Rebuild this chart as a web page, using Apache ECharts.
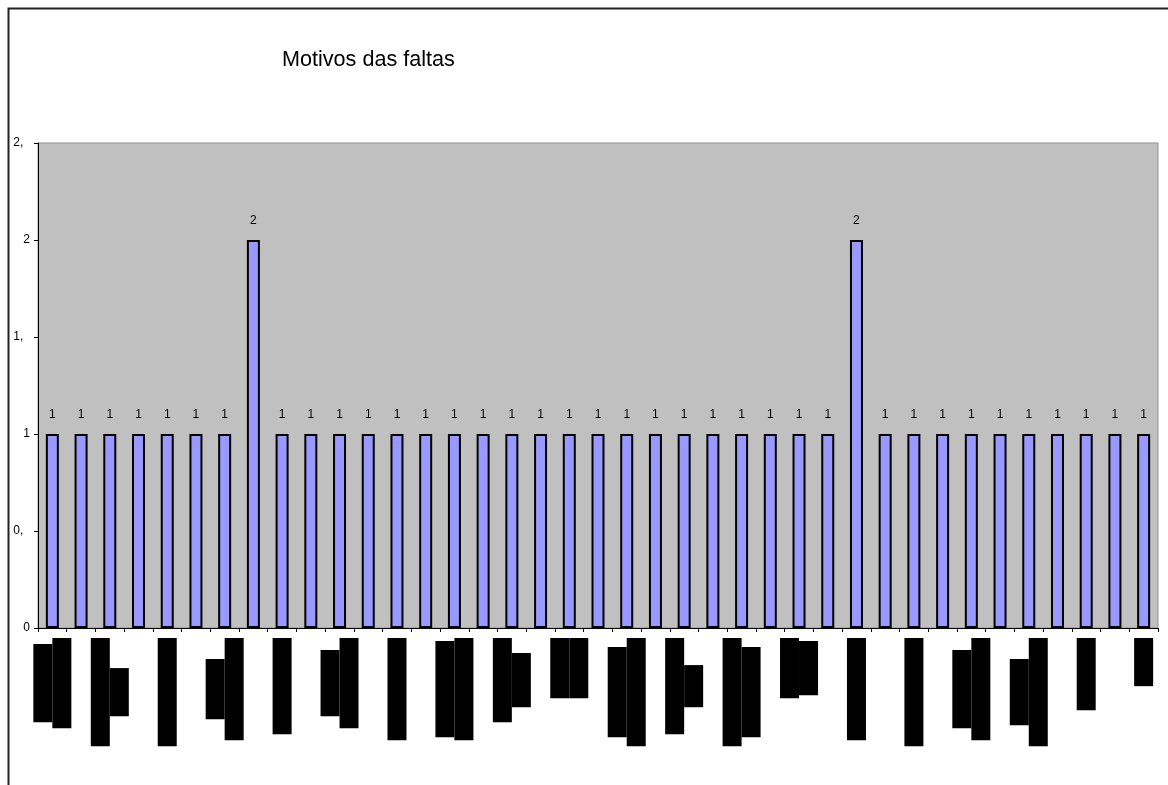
<!DOCTYPE html>
<html>
<head>
<meta charset="utf-8">
<script src="https://cdn.jsdelivr.net/npm/echarts@6/dist/echarts.min.js"></script>
<style>
  html, body { margin: 0; padding: 0; background: #fff; }
  #chart { width: 1168px; height: 785px; }
</style>
</head>
<body>
<div id="chart"></div>
<script>
// ---- data ----
const chartTitle = 'Motivos das faltas';

const categories = [
  'Problemas com\ntransporte ruim',
  'Gripe',
  'Consulta médica do\ndentista',
  'Febre',
  'Falecimento de avó',
  'Vômito',
  'Viagem com\nos pais para fora',
  'Resfriado',
  'Chuva e enchente',
  'Tosse',
  'Ficar com o\nirmão mais novo',
  'Piolho',
  'Dores de garganta',
  'Catapora',
  'Trabalho na roça\njunto com os pais',
  'Caxumba',
  'Aniversário de\nsua prima',
  'Cólica',
  'Dormiu até\nmais tarde',
  'Enxaqueca',
  'Tirar documento\nde identidade (RG)',
  'Torção no pé',
  'Machucou o braço\nno jogo',
  'Frio intenso',
  'Exame de sangue no\nposto da cidade',
  'Dor de barriga',
  'Mudança de\nmunicípio',
  'Sem uniforme',
  'Alergia alimentar',
  'Compromisso',
  'Rua sem iluminação',
  'Conjuntivite',
  'Visita ao pai\nem cidade vizinha',
  'Sarampo',
  'Problema de\nsaúde da avó idosa',
  'Não informado',
  'Dor de dente',
  'Sem motivo',
  'Diarréia'
];

const faltas = [
  1, 1, 1, 1, 1, 1, 1, 2, 1, 1,
  1, 1, 1, 1, 1, 1, 1, 1, 1, 1,
  1, 1, 1, 1, 1, 1, 1, 1, 2, 1,
  1, 1, 1, 1, 1, 1, 1, 1, 1
];

const yTickValues = [0, 0.5, 1, 1.5, 2, 2.5];
// the reference clips the last digit of the half-step labels ("0,5" shows as "0,")
const yTickLabels = ['0', '0,5', '1', '1,5', '2', '2,5'];

// ---- chart ----
const chart = echarts.init(document.getElementById('chart'), null, { renderer: 'canvas' });

const baseFont = 'Liberation Sans, Arial, Helvetica, sans-serif';

chart.setOption({
  animation: false,
  backgroundColor: '#ffffff',
  title: {
    text: chartTitle,
    left: 282,
    top: 49,
    padding: 0,
    textStyle: { fontFamily: baseFont, fontSize: 21.6, fontWeight: 'normal', color: '#000' }
  },
  graphic: [{
    type: 'rect',
    silent: true,
    shape: { x: 8.5, y: 8.5, width: 1300, height: 1000 },
    style: { fill: 'none', stroke: '#222', lineWidth: 2 }
  }],
  grid: {
    left: 38,
    right: 10,
    top: 143,
    bottom: 157,
    show: true,
    backgroundColor: '#c0c0c0',
    borderColor: '#909090',
    borderWidth: 1,
    containLabel: false,
    outerBoundsMode: 'none'
  },
  xAxis: {
    type: 'category',
    data: categories,
    boundaryGap: true,
    axisLine: { show: true, lineStyle: { color: '#000', width: 1 } },
    axisTick: { show: true, interval: 0, length: 4, lineStyle: { color: '#000' } },
    splitLine: { show: false },
    axisLabel: {
      interval: 1,
      rotate: 90,
      margin: 10,
      color: '#000',
      fontFamily: 'DejaVu Sans Mono, monospace',
      fontSize: 10,
      formatter: function (value) {
        return value.split('\n').map(function (s) { return '{b|' + s + '}'; }).join('\n');
      },
      rich: {
        b: {
          backgroundColor: '#000',
          color: '#000',
          fontFamily: 'DejaVu Sans Mono, monospace',
          fontSize: 10,
          height: 19,
          lineHeight: 19,
          align: 'center'
        }
      }
    }
  },
  yAxis: {
    type: 'value',
    min: 0,
    max: 2.5,
    interval: 0.5,
    axisLine: { show: true, lineStyle: { color: '#000', width: 1 } },
    axisTick: { show: true, length: 4, lineStyle: { color: '#000' } },
    splitLine: { show: false },
    axisLabel: {
      margin: 8,
      color: '#000',
      fontFamily: baseFont,
      fontSize: 12,
      formatter: function (v) {
        const i = yTickValues.indexOf(Math.round(v * 2) / 2);
        if (i < 0) return '';
        const t = yTickLabels[i];
        if (t.indexOf(',') < 0) return '{v|' + t + '}';
        const cut = t.indexOf(',') + 1;
        return '{v|' + t.slice(0, cut) + '}{h|' + t.slice(cut) + '}';
      },
      rich: {
        v: { color: '#000', fontFamily: baseFont, fontSize: 12 },
        h: { color: 'rgba(0,0,0,0)', fontFamily: baseFont, fontSize: 12 }
      }
    }
  },
  series: [{
    type: 'bar',
    data: faltas,
    barWidth: 13,
    itemStyle: { color: '#9999ff', borderColor: '#000', borderWidth: 2 },
    label: {
      show: true,
      position: 'top',
      distance: 13,
      color: '#000',
      fontFamily: baseFont,
      fontSize: 12
    }
  }]
});
</script>
</body>
</html>
